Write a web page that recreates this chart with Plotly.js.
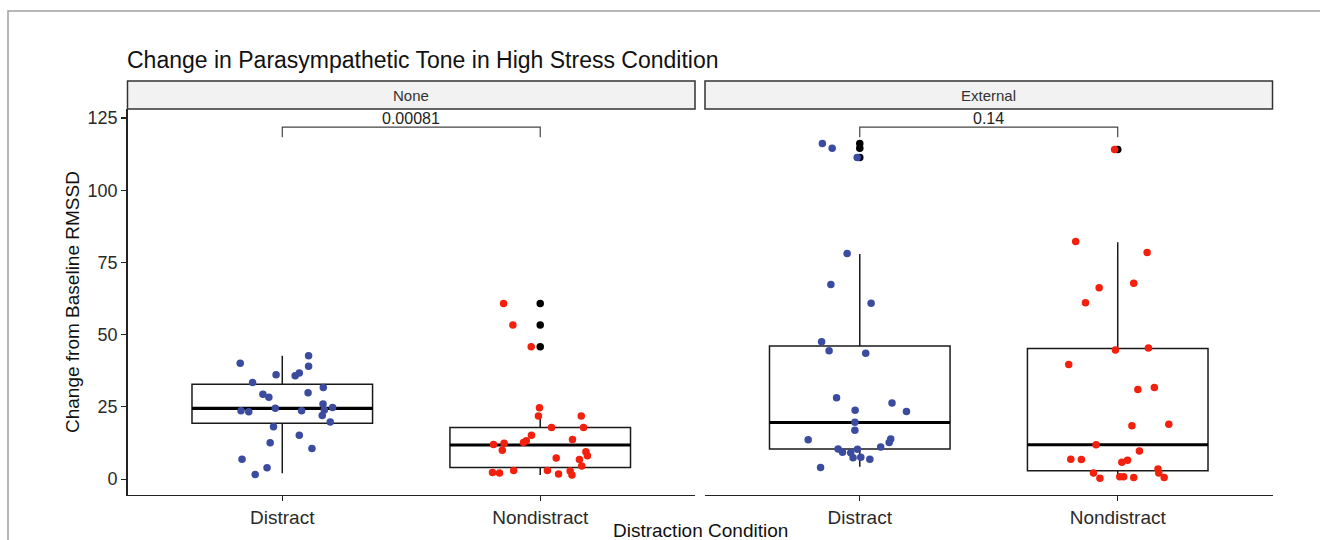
<!DOCTYPE html>
<html>
<head>
<meta charset="utf-8">
<script src="https://cdn.plot.ly/plotly-3.0.1.min.js"></script>
<style>html,body{margin:0;padding:0;background:#fff;}#chart{width:1320px;height:540px;}</style>
</head>
<body>
<div id="chart"></div>
<script>
// ---------- data ----------
const panels = ['None', 'External'];
const categories = ['Distract', 'Nondistract'];
const catPos = [1, 2];
const yTicks = [0, 25, 50, 75, 100, 125];

// jittered observations (value, horizontal jitter offset)
const noneDistractY = [40.1,42.7,39.1,36.1,35.8,36.7,33.4,29.4,28.3,29.9,31.7,23.7,23.3,24.5,23.7,26.0,23.9,24.8,22.0,19.8,18.1,15.2,12.6,10.6,6.9,3.9,1.6];
const noneDistractDx = [-0.163,0.102,0.102,-0.024,0.05,0.066,-0.115,-0.075,-0.052,0.1,0.159,-0.16,-0.13,-0.027,0.075,0.158,0.163,0.195,0.155,0.186,-0.034,0.066,-0.047,0.115,-0.156,-0.059,-0.105];
const noneNondistY = [60.8,53.3,45.8,24.7,21.8,21.8,17.9,17.9,15.2,13.7,13.3,12.7,12.4,12.0,10.0,9.5,8.1,7.3,6.8,4.5,2.3,2.1,3.0,3.0,1.8,2.8,1.4];
const noneNondistDx = [-0.142,-0.106,-0.035,-0.003,-0.007,0.159,0.168,0.044,-0.034,0.125,-0.054,-0.065,-0.14,-0.181,-0.147,0.177,0.183,0.062,0.152,0.161,-0.185,-0.158,-0.103,0.028,0.071,0.116,0.123];
const extDistractY = [116.2,114.5,111.3,78.1,67.4,60.9,47.5,44.4,43.6,28.2,26.3,23.8,23.4,19.7,16.9,13.6,13.9,12.7,11.1,10.4,9.3,9.1,10.3,7.4,7.6,6.9,4.0];
const extDistractDx = [-0.145,-0.107,-0.01,-0.049,-0.112,0.044,-0.148,-0.119,0.023,-0.09,0.125,-0.018,0.181,-0.019,-0.019,-0.2,0.12,0.114,0.081,-0.084,-0.067,-0.035,-0.009,-0.026,0.004,0.039,-0.152];
const extNondistY = [114.1,82.2,78.4,66.2,67.8,61.0,44.7,45.4,39.7,31.0,31.7,18.5,19.0,11.9,9.7,6.9,6.8,5.8,6.5,2.1,0.3,0.8,0.8,0.6,3.5,2.1,0.6];
const extNondistDx = [-0.012,-0.163,0.114,-0.072,0.062,-0.125,-0.009,0.119,-0.19,0.078,0.142,0.055,0.198,-0.084,0.084,-0.182,-0.141,0.016,0.038,-0.094,-0.069,0.008,0.023,0.062,0.156,0.159,0.18];

// box statistics per panel [Distract, Nondistract]
const noneQ1 = [19.3, 4.0], noneMed = [24.5, 11.8], noneQ3 = [32.8, 17.9], noneLo = [2.0, 1.4], noneHi = [42.7, 21.0];
const extQ1 = [10.4, 2.9], extMed = [19.6, 11.9], extQ3 = [46.1, 45.2], extLo = [4.3, 0.3], extHi = [77.9, 82.0];

// boxplot outliers
const noneOutDistract = [], noneOutNondist = [60.8, 53.3, 45.8];
const extOutDistract = [116.2, 114.5, 111.3], extOutNondist = [114.1];

// comparison brackets
const bracketY = [121.8, 121.8];
const pValues = ['0.00081', '0.14'];

// ---------- styling ----------
const FONT = 'Liberation Sans, Arial, Helvetica, sans-serif';
const BLUE = '#3B4BA0', RED = '#F2200C';
const BOXW = 0.7, TIP = 3.5;
const W = 1320, H = 540;
const px = v => v / W, py = v => 1 - v / H;

const traces = [];
function addPanel(xa, ya, q1, med, q3, lo, hi, outs, jit) {
  traces.push({type:'box', x:catPos, q1:q1, median:med, q3:q3, lowerfence:lo, upperfence:hi,
    width:BOXW, xaxis:xa, yaxis:ya, boxpoints:false, fillcolor:'rgba(255,255,255,0)',
    line:{color:'#1a1a1a', width:1.5}, whiskerwidth:0, hoverinfo:'skip', showlegend:false});
  const mx = [], my = [];
  catPos.forEach((c, i) => { mx.push(c - BOXW/2, c + BOXW/2, null); my.push(med[i], med[i], null); });
  traces.push({type:'scatter', mode:'lines', x:mx, y:my, xaxis:xa, yaxis:ya,
    line:{color:'#000', width:3.2}, hoverinfo:'skip', showlegend:false});
  const ox = [], oy = [];
  outs.forEach((arr, i) => arr.forEach(v => { ox.push(catPos[i]); oy.push(v); }));
  traces.push({type:'scatter', mode:'markers', x:ox, y:oy, xaxis:xa, yaxis:ya,
    marker:{color:'#000', size:7.5}, hoverinfo:'skip', showlegend:false});
  jit.forEach((g, i) => {
    traces.push({type:'scatter', mode:'markers', x:g.y.map((v, k) => catPos[i] + g.dx[k]), y:g.y,
      xaxis:xa, yaxis:ya, marker:{color:g.color, size:7.5}, hoverinfo:'skip', showlegend:false});
  });
}
addPanel('x', 'y', noneQ1, noneMed, noneQ3, noneLo, noneHi, [noneOutDistract, noneOutNondist],
  [{y:noneDistractY, dx:noneDistractDx, color:BLUE}, {y:noneNondistY, dx:noneNondistDx, color:RED}]);
addPanel('x2', 'y2', extQ1, extMed, extQ3, extLo, extHi, [extOutDistract, extOutNondist],
  [{y:extDistractY, dx:extDistractDx, color:BLUE}, {y:extNondistY, dx:extNondistDx, color:RED}]);

const xDom = [[127.5, 695], [705, 1272.5]];
const yDom = [py(495), py(109)];
const xCommon = {range:[0.4, 2.6], tickvals:catPos, ticktext:categories, showline:true, linecolor:'#222',
  linewidth:1.3, ticks:'outside', ticklen:5, tickwidth:1.2, tickcolor:'#222', showgrid:false, zeroline:false,
  tickfont:{family:FONT, size:19, color:'#2a2a2a'}, fixedrange:true};

const shapes = [
  // frame of the screenshot
  {type:'path', xref:'paper', yref:'paper', path:`M ${px(8)} 0 L ${px(8)} ${py(11)} L 1 ${py(11)}`,
   line:{color:'#a0a0a0', width:1.5}},
];
const annotations = [];
panels.forEach((p, i) => {
  shapes.push({type:'rect', xref:'paper', yref:'paper', x0:px(xDom[i][0]), x1:px(xDom[i][1]),
    y0:py(109), y1:py(81), fillcolor:'#F2F2F2', line:{color:'#333', width:1.5}, layer:'above'});
  annotations.push({text:p, xref:'paper', yref:'paper', x:px((xDom[i][0] + xDom[i][1]) / 2), y:py(95),
    xanchor:'center', yanchor:'middle', showarrow:false, font:{family:FONT, size:15, color:'#333'}});
  const xr = i === 0 ? 'x' : 'x2', yr = i === 0 ? 'y' : 'y2';
  const b = bracketY[i];
  shapes.push({type:'path', xref:xr, yref:yr,
    path:`M ${catPos[0]} ${b - TIP} L ${catPos[0]} ${b} L ${catPos[1]} ${b} L ${catPos[1]} ${b - TIP}`,
    line:{color:'#444', width:1.2}});
  annotations.push({text:pValues[i], xref:xr, yref:yr, x:(catPos[0] + catPos[1]) / 2, y:b,
    xanchor:'center', yanchor:'bottom', showarrow:false, yshift:-2, font:{family:FONT, size:16, color:'#222'}});
});
annotations.push({text:'Change from Baseline RMSSD', xref:'paper', yref:'paper', x:px(72), y:py(302),
  textangle:-90, xanchor:'center', yanchor:'middle', showarrow:false, font:{family:FONT, size:19, color:'#111'}});
annotations.push({text:'Distraction Condition', xref:'paper', yref:'paper', x:px(700), y:py(530),
  xanchor:'center', yanchor:'middle', showarrow:false, font:{family:FONT, size:19, color:'#111'}});

const layout = {
  width:W, height:H, margin:{l:0, r:0, t:0, b:0}, paper_bgcolor:'#fff', plot_bgcolor:'rgba(0,0,0,0)',
  showlegend:false, boxmode:'overlay',
  title:{text:'Change in Parasympathetic Tone in High Stress Condition', xref:'paper', yref:'paper',
    x:px(127), xanchor:'left', y:py(60), yanchor:'middle', font:{family:FONT, size:23, color:'#111'}},
  xaxis:Object.assign({}, xCommon, {domain:[px(xDom[0][0]), px(xDom[0][1])], anchor:'y'}),
  xaxis2:Object.assign({}, xCommon, {domain:[px(xDom[1][0]), px(xDom[1][1])], anchor:'y2'}),
  yaxis:{domain:yDom, range:[-5.5, 128.1], tickvals:yTicks, showline:true, linecolor:'#222', linewidth:1.3,
    ticks:'outside', ticklen:5, tickwidth:1.2, tickcolor:'#222', showgrid:false, zeroline:false, anchor:'x',
    tickfont:{family:FONT, size:18, color:'#2a2a2a'}, fixedrange:true},
  yaxis2:{domain:yDom, matches:'y', range:[-5.5, 128.1], showline:false, showticklabels:false, ticks:'',
    showgrid:false, zeroline:false, anchor:'x2', fixedrange:true},
  shapes:shapes, annotations:annotations
};
Plotly.newPlot('chart', traces, layout, {staticPlot:true, displayModeBar:false});
</script>
</body>
</html>
